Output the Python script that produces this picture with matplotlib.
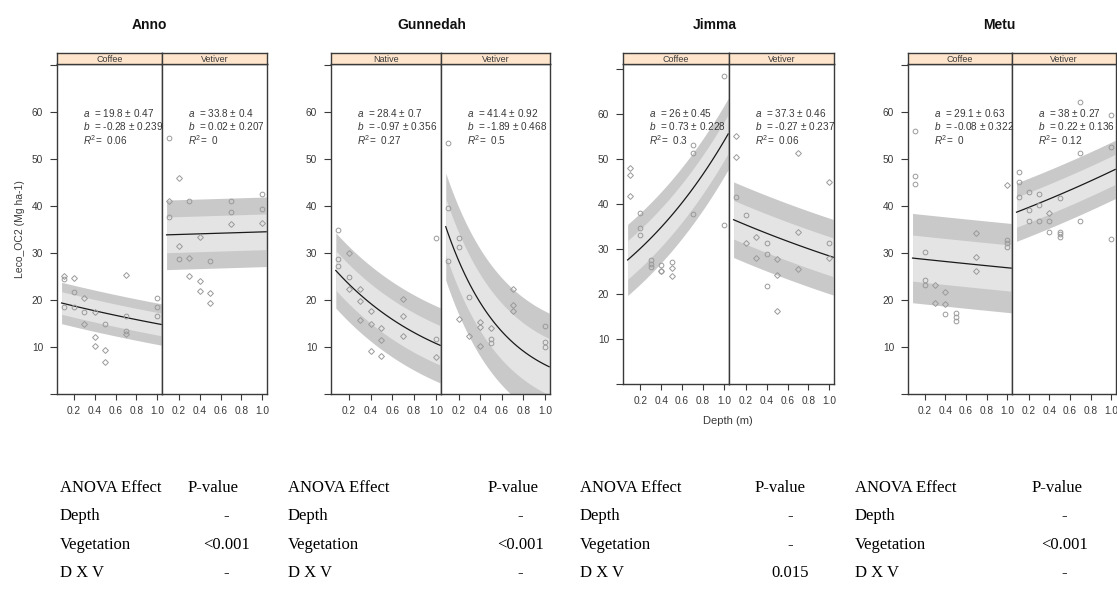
import numpy as np
import matplotlib
matplotlib.use("Agg")
import matplotlib.pyplot as plt

plt.rcParams["font.family"] = ["Liberation Sans", "DejaVu Sans"]
plt.rcParams["mathtext.fontset"] = "custom"
plt.rcParams["mathtext.rm"] = "Liberation Sans"
plt.rcParams["mathtext.it"] = "Liberation Sans:italic"

# sites and vegetation panels
sites = ["Anno", "Gunnedah", "Jimma", "Metu"]
vegetation = [["Coffee", "Vetiver"], ["Native", "Vetiver"], ["Coffee", "Vetiver"], ["Coffee", "Vetiver"]]

# exponential fit y = a * exp(b * depth)
a_est = [[19.8, 33.8], [28.4, 41.4], [26, 37.3], [29.1, 38]]
a_se = [[0.47, 0.4], [0.7, 0.92], [0.45, 0.46], [0.63, 0.27]]
b_est = [[-0.28, 0.02], [-0.97, -1.89], [0.73, -0.27], [-0.08, 0.22]]
b_se = [[0.239, 0.207], [0.356, 0.468], [0.228, 0.237], [0.322, 0.136]]
r2 = [["0.06", "0"], ["0.27", "0.5"], ["0.3", "0.06"], ["0", "0.12"]]

# half widths of the prediction (outer) and confidence (inner) bands
pred_half = [[4.4, 7.4], [8.0, 11.4], [7.9, 8.4], [9.5, 6.2]]
conf_half = [[2.4, 3.8], [4.2, 6.0], [4.3, 4.3], [4.9, 3.2]]

# observations: depth (m), Leco OC2 (Mg ha-1), marker
anno_coffee = (
    [0.1, 0.1, 0.1, 0.2, 0.2, 0.2, 0.3, 0.3, 0.3, 0.4, 0.4, 0.4, 0.5, 0.5, 0.5, 0.7, 0.7, 0.7, 0.7, 1.0, 1.0, 1.0],
    [25.1, 24.5, 18.6, 24.7, 21.6, 18.6, 20.5, 17.4, 14.9, 17.4, 12.1, 10.3, 14.9, 9.4, 6.9, 25.3, 16.6, 13.3, 12.8, 20.4, 18.6, 16.5],
    "DooDooDoDDDDoDDDooDooo")
anno_vetiver = (
    [0.1, 0.1, 0.1, 0.2, 0.2, 0.2, 0.3, 0.3, 0.3, 0.4, 0.4, 0.4, 0.5, 0.5, 0.5, 0.7, 0.7, 0.7, 1.0, 1.0, 1.0],
    [54.5, 41.1, 37.7, 46.0, 31.5, 28.7, 41.0, 28.9, 25.1, 33.3, 24.1, 22.0, 28.3, 21.4, 19.3, 41.1, 38.8, 36.1, 42.6, 39.3, 36.3],
    "oDoDDooDDDDDoDDooDooD")
gunnedah_native = (
    [0.1, 0.1, 0.1, 0.2, 0.2, 0.2, 0.3, 0.3, 0.3, 0.4, 0.4, 0.4, 0.5, 0.5, 0.5, 0.7, 0.7, 0.7, 1.0, 1.0, 1.0],
    [34.9, 28.7, 27.2, 29.9, 24.8, 22.4, 22.4, 19.8, 15.7, 17.7, 14.9, 9.1, 14.0, 11.5, 8.1, 20.2, 16.5, 12.3, 33.1, 11.8, 7.8],
    "oooDoDDDDDDDDDDDDDooD")
gunnedah_vetiver = (
    [0.1, 0.1, 0.1, 0.2, 0.2, 0.2, 0.3, 0.3, 0.4, 0.4, 0.4, 0.5, 0.5, 0.5, 0.7, 0.7, 0.7, 1.0, 1.0, 1.0],
    [53.5, 39.5, 28.2, 33.1, 31.3, 15.9, 20.6, 12.3, 15.4, 14.3, 10.3, 14.0, 11.6, 10.9, 22.3, 18.9, 17.7, 14.5, 11.1, 9.9],
    "oooooDoDDDDDooDDDooo")
jimma_coffee = (
    [0.1, 0.1, 0.1, 0.2, 0.2, 0.2, 0.3, 0.3, 0.3, 0.4, 0.4, 0.4, 0.5, 0.5, 0.5, 0.7, 0.7, 0.7, 1.0, 1.0],
    [47.9, 46.4, 41.8, 38.1, 34.7, 33.1, 27.6, 26.7, 25.9, 26.4, 25.2, 25.0, 27.1, 25.7, 24.0, 53.1, 51.3, 37.8, 68.4, 35.3],
    "DDDoooooooDooDDooooo")
jimma_vetiver = (
    [0.1, 0.1, 0.1, 0.2, 0.2, 0.3, 0.3, 0.4, 0.4, 0.4, 0.5, 0.5, 0.5, 0.7, 0.7, 0.7, 1.0, 1.0, 1.0],
    [55.1, 50.5, 41.6, 37.6, 31.3, 32.7, 28.1, 31.3, 28.9, 21.8, 27.8, 24.2, 16.3, 51.4, 33.7, 25.5, 44.8, 31.3, 28.0],
    "DDooDDDoooDDDDDDDoD")
metu_coffee = (
    [0.1, 0.1, 0.1, 0.2, 0.2, 0.2, 0.3, 0.3, 0.4, 0.4, 0.4, 0.5, 0.5, 0.5, 0.7, 0.7, 0.7, 1.0, 1.0, 1.0, 1.0],
    [56.0, 46.4, 44.7, 30.3, 24.3, 23.2, 23.2, 19.3, 21.8, 19.1, 17.0, 17.2, 16.3, 15.6, 34.2, 29.2, 26.2, 44.5, 32.8, 32.2, 31.3],
    "ooooooDDDDooooDDDDooo")
metu_vetiver = (
    [0.1, 0.1, 0.1, 0.2, 0.2, 0.2, 0.3, 0.3, 0.3, 0.4, 0.4, 0.4, 0.5, 0.5, 0.5, 0.5, 0.7, 0.7, 0.7, 1.0, 1.0, 1.0],
    [47.3, 45.2, 42.0, 43.0, 39.1, 36.9, 42.6, 40.1, 36.9, 38.4, 36.9, 34.4, 41.6, 34.5, 34.0, 33.3, 62.2, 51.2, 36.9, 59.4, 52.6, 32.9],
    "oooooooooDoooooooooooo")
observations = [[anno_coffee, anno_vetiver], [gunnedah_native, gunnedah_vetiver],
                [jimma_coffee, jimma_vetiver], [metu_coffee, metu_vetiver]]

# ANOVA tables
anova_effects = ["Depth", "Vegetation", "D X V"]
anova_p = [["-", "<0.001", "-"], ["-", "<0.001", "-"], ["-", "-", "0.015"], ["-", "<0.001", "-"]]

# layout in pixels (x0, x_mid, x1, y_top, y_bottom, y_max)
W, H = 1117, 600
panels = [(57, 162, 267, 64, 394, 70.2), (331, 441, 550, 64, 394, 70.2),
          (623, 729, 834, 64, 384, 71.1), (908, 1012, 1116, 64, 394, 70.2)]
title_x = [149, 432, 715, 999]
table_x = [(60, 213, 226), (288, 513, 520), (580, 780, 790), (855, 1057, 1064)]
table_y = [488, 516, 545, 573]

frame_col = "#3a3a3a"
text_col = "#3a3a3a"


def box(x0, y0, x1, y1):
    return [x0 / W, 1 - y1 / H, (x1 - x0) / W, (y1 - y0) / H]


fig = plt.figure(figsize=(W / 100, H / 100), dpi=100)

xfit = np.linspace(0.08, 1.04, 120)
for i, site in enumerate(sites):
    x0, xm, x1, yt, yb, ymax = panels[i]
    fig.text(title_x[i] / W, 1 - 25 / H, site, ha="center", va="center",
             fontsize=10, fontweight="bold", color="#111111")
    for j, (px0, px1) in enumerate([(x0, xm), (xm, x1)]):
        ax = fig.add_axes(box(px0, yt, px1, yb))
        ax.set_xlim(0.036, 1.048)
        ax.set_ylim(0, ymax)

        fit = a_est[i][j] * np.exp(b_est[i][j] * xfit)
        po, ci = pred_half[i][j], conf_half[i][j]
        ax.fill_between(xfit, fit - po, fit + po, color="#c9c9c9", lw=0)
        ax.fill_between(xfit, fit - ci, fit + ci, color="#e4e4e4", lw=0)
        ax.plot(xfit, fit, color="#1a1a1a", lw=0.9)

        depth, val, shp = observations[i][j]
        for d, v, m in zip(depth, val, shp):
            ax.plot(d, v, marker=m, ms=3.4 if m == "o" else 3.0, mfc="none",
                    mec="#9a9a9a", mew=0.7, ls="none")

        ann = [f"$a$  = {a_est[i][j]:g} ± {a_se[i][j]:g}",
               f"$b$  = {b_est[i][j]:g} ± {b_se[i][j]:g}",
               f"$R^2$=  {r2[i][j]}"]
        for k, line in enumerate(ann):
            fig.text((px0 + 26) / W, 1 - (113 + 13.5 * k) / H, line, ha="left",
                     va="center", fontsize=7.2, color=text_col)

        for s in ax.spines.values():
            s.set_color(frame_col)
            s.set_linewidth(1.0)
        ax.set_xticks([0.2, 0.4, 0.6, 0.8, 1.0])
        ax.set_xticklabels(["0.2", "0.4", "0.6", "0.8", "1.0"])
        ax.tick_params(axis="x", direction="out", length=4, width=0.8, pad=5,
                       labelsize=7.3, colors=frame_col, labelcolor=text_col)
        if j == 0:
            ax.set_yticks(range(0, 71, 10))
            ax.set_yticklabels([""] + [str(t) for t in range(10, 61, 10)] + [""])
            ax.tick_params(axis="y", direction="out", length=5, width=0.8, pad=5,
                           labelsize=7.3, colors=frame_col, labelcolor=text_col)
        else:
            ax.set_yticks([])

        # strip with the vegetation name
        sax = fig.add_axes(box(px0, 53, px1, yt))
        sax.set_facecolor("#ffe5cc")
        sax.set_xticks([])
        sax.set_yticks([])
        for s in sax.spines.values():
            s.set_color(frame_col)
            s.set_linewidth(1.0)
        sax.text(0.5, 0.45, vegetation[i][j], ha="center", va="center",
                 fontsize=6.5, color=text_col, transform=sax.transAxes)

    # ANOVA table under each site
    tx, hx, vx = table_x[i]
    serif = ["Liberation Serif", "DejaVu Serif"]
    fig.text(tx / W, 1 - table_y[0] / H, "ANOVA Effect", family=serif,
             fontsize=12, ha="left", va="center")
    fig.text(hx / W, 1 - table_y[0] / H, "P-value", family=serif,
             fontsize=12, ha="center", va="center")
    for r, eff in enumerate(anova_effects):
        fig.text(tx / W, 1 - table_y[r + 1] / H, eff, family=serif,
                 fontsize=12, ha="left", va="center")
        fig.text(vx / W, 1 - table_y[r + 1] / H, anova_p[i][r], family=serif,
                 fontsize=12, ha="center", va="center")

fig.text(20 / W, 1 - 229 / H, "Leco_OC2 (Mg ha-1)", rotation=90, ha="center",
         va="center", fontsize=7.5, color=text_col)
fig.text(728 / W, 1 - 421 / H, "Depth (m)", ha="center", va="center",
         fontsize=8, color=text_col)

fig.savefig("out.png", dpi=100)
